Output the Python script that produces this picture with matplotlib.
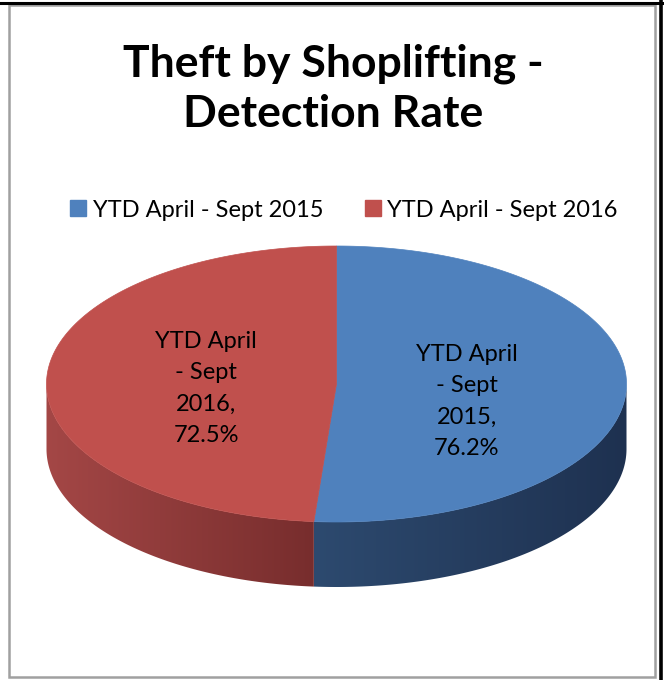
import numpy as np
import matplotlib
matplotlib.use("Agg")
import matplotlib.pyplot as plt
from matplotlib.patches import Polygon, Rectangle
from matplotlib.lines import Line2D
from matplotlib.colors import to_rgb

# -----------------------------
# DATA
# -----------------------------
title = "Theft by Shoplifting -\nDetection Rate"
categories = ["YTD April - Sept 2015", "YTD April - Sept 2016"]
values = [76.2, 72.5]
label_texts = ["YTD April\n- Sept\n2015,\n76.2%", "YTD April\n- Sept\n2016,\n72.5%"]

# -----------------------------
# STYLE
# -----------------------------
top_colors = ["#4F81BD", "#C0504D"]
side_light = ["#2D4A6F", "#A44746"]
side_dark = ["#1E3150", "#772D2D"]

CX, CY = 336.5, 384        # centre of top ellipse (pixels)
A, B = 290, 138            # semi axes
DEPTH = 65                 # thickness of the pie
START = 90                 # first slice starts at 12 o'clock, clockwise

plt.rcParams['font.family'] = ['Lato', 'DejaVu Sans']

fig = plt.figure(figsize=(6.64, 6.80), dpi=100)
ax = fig.add_axes([0, 0, 1, 1])
ax.set_xlim(0, 664)
ax.set_ylim(680, 0)
ax.axis("off")


def pt(theta_deg, dy=0.0, r=1.0):
    t = np.radians(theta_deg)
    return CX + r * A * np.cos(t), CY - r * B * np.sin(t) + dy


# slice angles (clockwise from START)
fracs = np.array(values) / np.sum(values)
bounds = []
a0 = START
for f in fracs:
    a1 = a0 - 360 * f
    bounds.append((a1, a0))   # counterclockwise from a1 to a0
    a0 = a1


def visible_range(lo, hi):
    # part of [lo, hi] (ccw) that lies on the front half 180..360
    for shift in (0, 360, -360, 720):
        l, h = lo + shift, hi + shift
        vl, vh = max(l, 180), min(h, 360)
        if vh > vl:
            return vl, vh
    return None


# -----------------------------
# SIDES (front half only, gradient fill)
# -----------------------------
for i, (lo, hi) in enumerate(bounds):
    rng = visible_range(lo, hi)
    if rng is None:
        continue
    thetas = np.linspace(rng[0], rng[1], 200)
    top = [pt(t) for t in thetas]
    bot = [pt(t, DEPTH) for t in thetas[::-1]]
    poly = Polygon(top + bot, closed=True, facecolor="none", edgecolor="none")
    ax.add_patch(poly)
    xs = [p[0] for p in top]
    x_min, x_max = min(xs), max(xs)
    c1, c2 = np.array(to_rgb(side_light[i])), np.array(to_rgb(side_dark[i]))
    k = np.linspace(0, 1, 256)[None, :, None]
    grad = c1 * (1 - k) + c2 * k
    im = ax.imshow(grad, extent=[x_min - 1, x_max + 1, CY + DEPTH + B + 2, CY - 2],
                   aspect="auto", interpolation="bilinear", zorder=1)
    im.set_clip_path(poly)

ax.set_xlim(0, 664)
ax.set_ylim(680, 0)

# -----------------------------
# TOP FACES
# -----------------------------
for i, (lo, hi) in enumerate(bounds):
    th = np.linspace(lo, hi, 300)
    poly = [(CX, CY)] + [pt(t) for t in th]
    ax.add_patch(Polygon(poly, closed=True, facecolor=top_colors[i],
                         edgecolor=top_colors[i], lw=0.5, zorder=2))

# data labels
label_dy = [15, 7]
for i, (lo, hi) in enumerate(bounds):
    mid = (lo + hi) / 2
    x, y = pt(mid, r=0.45)
    ax.text(x, y + label_dy[i], label_texts[i], ha="center", va="center",
            fontsize=17, color="black", linespacing=1.6, zorder=3)

# -----------------------------
# TITLE / LEGEND
# -----------------------------
ax.text(333, 88.5, title, ha="center", va="center", fontsize=32,
        fontweight="bold", linespacing=1.3)

handles = [Line2D([0], [0], marker="s", color="w", markerfacecolor=c,
                  markeredgecolor=c, markersize=11) for c in top_colors]
fig.legend(handles, categories, loc="center", bbox_to_anchor=(0.515, 0.691),
           ncol=2, frameon=False, fontsize=17, handletextpad=0.1,
           columnspacing=1.6, handlelength=1.0)

# -----------------------------
# FRAME
# -----------------------------
ax.add_patch(Rectangle((9, 5), 646, 672, fill=False, edgecolor="#A0A0A0", lw=1.8))
ax.plot([0, 662], [2.5, 2.5], color="black", lw=2.2)
ax.plot([661, 661], [0, 680], color="black", lw=2.6)

fig.savefig("out.png", dpi=100)
